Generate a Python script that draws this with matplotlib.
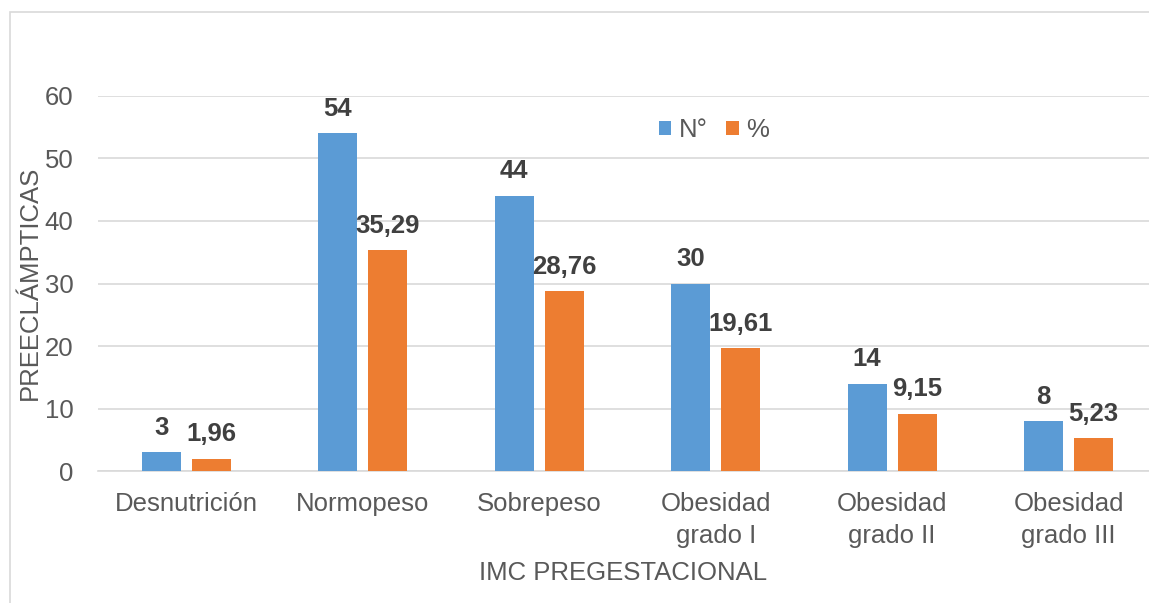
import matplotlib.pyplot as plt
import numpy as np
from matplotlib.patches import Rectangle

categorias = ['Desnutrición', 'Normopeso', 'Sobrepeso',
              'Obesidad\ngrado I', 'Obesidad\ngrado II', 'Obesidad\ngrado III']
numero = [3, 54, 44, 30, 14, 8]
porcentaje = [1.96, 35.29, 28.76, 19.61, 9.15, 5.23]
etiquetas_num = ['3', '54', '44', '30', '14', '8']
etiquetas_pct = ['1,96', '35,29', '28,76', '19,61', '9,15', '5,23']
yticks = [0, 10, 20, 30, 40, 50, 60]

azul = '#5B9BD5'
naranja = '#ED7D31'
gris = '#D9D9D9'
fs = 18.5

plt.rcParams['font.family'] = ['Liberation Sans', 'DejaVu Sans']

fig = plt.figure(figsize=(11.49, 6.03), dpi=100)
# borde del area del grafico
fig.patches.append(Rectangle((10 / 1149, -0.5), 2, 1.5 - 12 / 603, transform=fig.transFigure,
                             fill=False, edgecolor=gris, linewidth=1.2))

ax = fig.add_axes([0.0856, 0.2189, 0.9211, 0.6219])
x = np.arange(len(categorias))
ancho = 0.221
desp = 0.1417

b1 = ax.bar(x - desp, numero, ancho, color=azul, label='N°', zorder=3)
b2 = ax.bar(x + desp, porcentaje, ancho, color=naranja, label='%', zorder=3)

for barras, textos in ((b1, etiquetas_num), (b2, etiquetas_pct)):
    for barra, txt in zip(barras, textos):
        ax.annotate(txt, (barra.get_x() + barra.get_width() / 2, barra.get_height()),
                    xytext=(0, 9), textcoords='offset points', ha='center', va='bottom',
                    fontsize=fs, fontweight='bold', color='#404040', annotation_clip=False)

ax.set_xlim(-0.5, len(categorias) - 0.5)
ax.set_ylim(0, 60)
ax.set_yticks(yticks)
ax.set_xticks(x)
ax.set_xticklabels(categorias, linespacing=1.45)
ax.yaxis.grid(True, color=gris, linewidth=1.2, zorder=0)
ax.set_axisbelow(True)
ax.tick_params(axis='both', length=0, labelsize=fs, labelcolor='#595959')
ax.tick_params(axis='y', pad=18)
ax.tick_params(axis='x', pad=15)
for s in ['top', 'right', 'left']:
    ax.spines[s].set_visible(False)
ax.spines['bottom'].set_color(gris)
ax.spines['bottom'].set_linewidth(1.2)

fig.text(30 / 1149, 1 - 283 / 603, 'PREECLÁMPTICAS', rotation=90, ha='center', va='center',
         fontsize=fs, color='#595959')
fig.text(623 / 1149, 1 - 573 / 603, 'IMC PREGESTACIONAL', ha='center', va='center',
         fontsize=fs, color='#595959')

leg = ax.legend(loc='center', bbox_to_anchor=(714 / 1149, 1 - 130 / 603),
                bbox_transform=fig.transFigure, ncol=2, frameon=False, fontsize=fs,
                handlelength=0.5, handleheight=0.5, handletextpad=0.3, columnspacing=0.7)
for t in leg.get_texts():
    t.set_color('#595959')

fig.savefig('out.png', dpi=100)
